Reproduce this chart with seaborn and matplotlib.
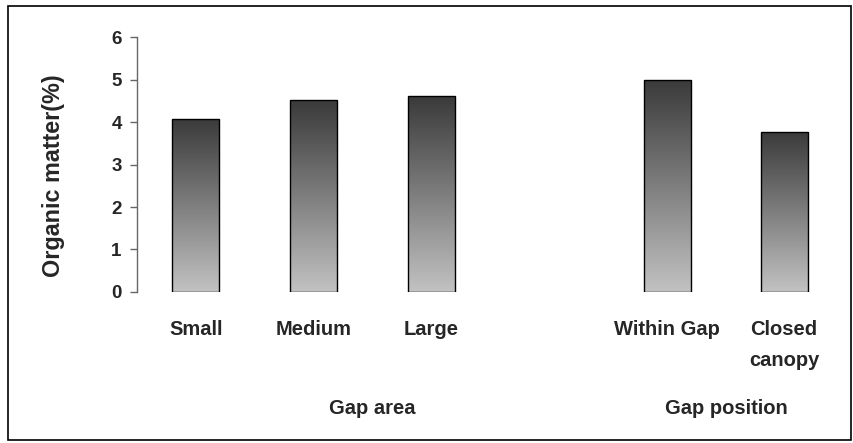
import numpy as np
import pandas as pd
import matplotlib
matplotlib.use('Agg')
import matplotlib.pyplot as plt
import seaborn as sns
from matplotlib.patches import Rectangle

categories = ['Small', 'Medium', 'Large', 'Within Gap', 'Closed\ncanopy']
organic_matter = [4.08, 4.52, 4.61, 5.0, 3.77]
order = ['Small', 'Medium', 'Large', ' ', 'Within Gap', 'Closed\ncanopy']
groups = ['Gap area', 'Gap position']
group_centers = [1.5, 4.5]

sns.set_style('white')
plt.rcParams['font.family'] = ['Liberation Sans', 'DejaVu Sans']
plt.rcParams['font.weight'] = 'bold'

df = pd.DataFrame({'category': categories, 'value': organic_matter})

fig = plt.figure(figsize=(8.54, 4.43), dpi=100)
ax = fig.add_axes([0.1604, 0.341, 0.8276, 0.575])

sns.barplot(data=df, x='category', y='value', order=order, width=0.4,
            color='white', edgecolor='black', linewidth=1.0, ax=ax)

# vertical gradient inside each bar: dark top, light bottom
grad = np.linspace(0, 1, 256).reshape(-1, 1)
cmap = matplotlib.colors.LinearSegmentedColormap.from_list('g', ['#c2c2c2', '#3a3a3a'])
for bar in list(ax.patches):
    x0, y0 = bar.get_x(), bar.get_y()
    w, h = bar.get_width(), bar.get_height()
    if h <= 0 or np.isnan(h):
        continue
    im = ax.imshow(grad, extent=[x0, x0 + w, y0, y0 + h], origin='lower',
                   cmap=cmap, aspect='auto', zorder=1)
    im.set_clip_path(bar)
    bar.set_facecolor('none')
    bar.set_zorder(2)

ax.set_xlim(-0.5, 5.5)
ax.set_ylim(0, 6)
ax.set_yticks(range(0, 7))
ax.set_ylabel('Organic matter(%)', fontsize=16.8, fontweight='bold')
ax.yaxis.set_label_coords(-0.102, 0.455)
ax.set_xlabel('')
ax.tick_params(axis='y', direction='out', length=5, width=1, color='#666666',
               labelsize=13.5, pad=6, left=True)
ax.tick_params(axis='x', length=0, labelsize=14.5, pad=20)
for lab in ax.get_xticklabels() + ax.get_yticklabels():
    lab.set_fontweight('bold')
for lab in ax.get_xticklabels():
    if '\n' in lab.get_text():
        lab.set_linespacing(1.85)
        lab.set_multialignment('left')

for s in ['top', 'right', 'bottom']:
    ax.spines[s].set_visible(False)
ax.spines['left'].set_color('#666666')
ax.spines['left'].set_linewidth(1)

for name, cx in zip(groups, group_centers):
    ax.text(cx, -2.75, name, ha='center', va='center', fontsize=14.5,
            fontweight='bold', clip_on=False)

fig.patches.append(Rectangle((8 / 854, 3 / 443), 843 / 854, 434 / 443,
                             transform=fig.transFigure, fill=False,
                             edgecolor='black', linewidth=1.2))

fig.savefig('out.png', dpi=100)
